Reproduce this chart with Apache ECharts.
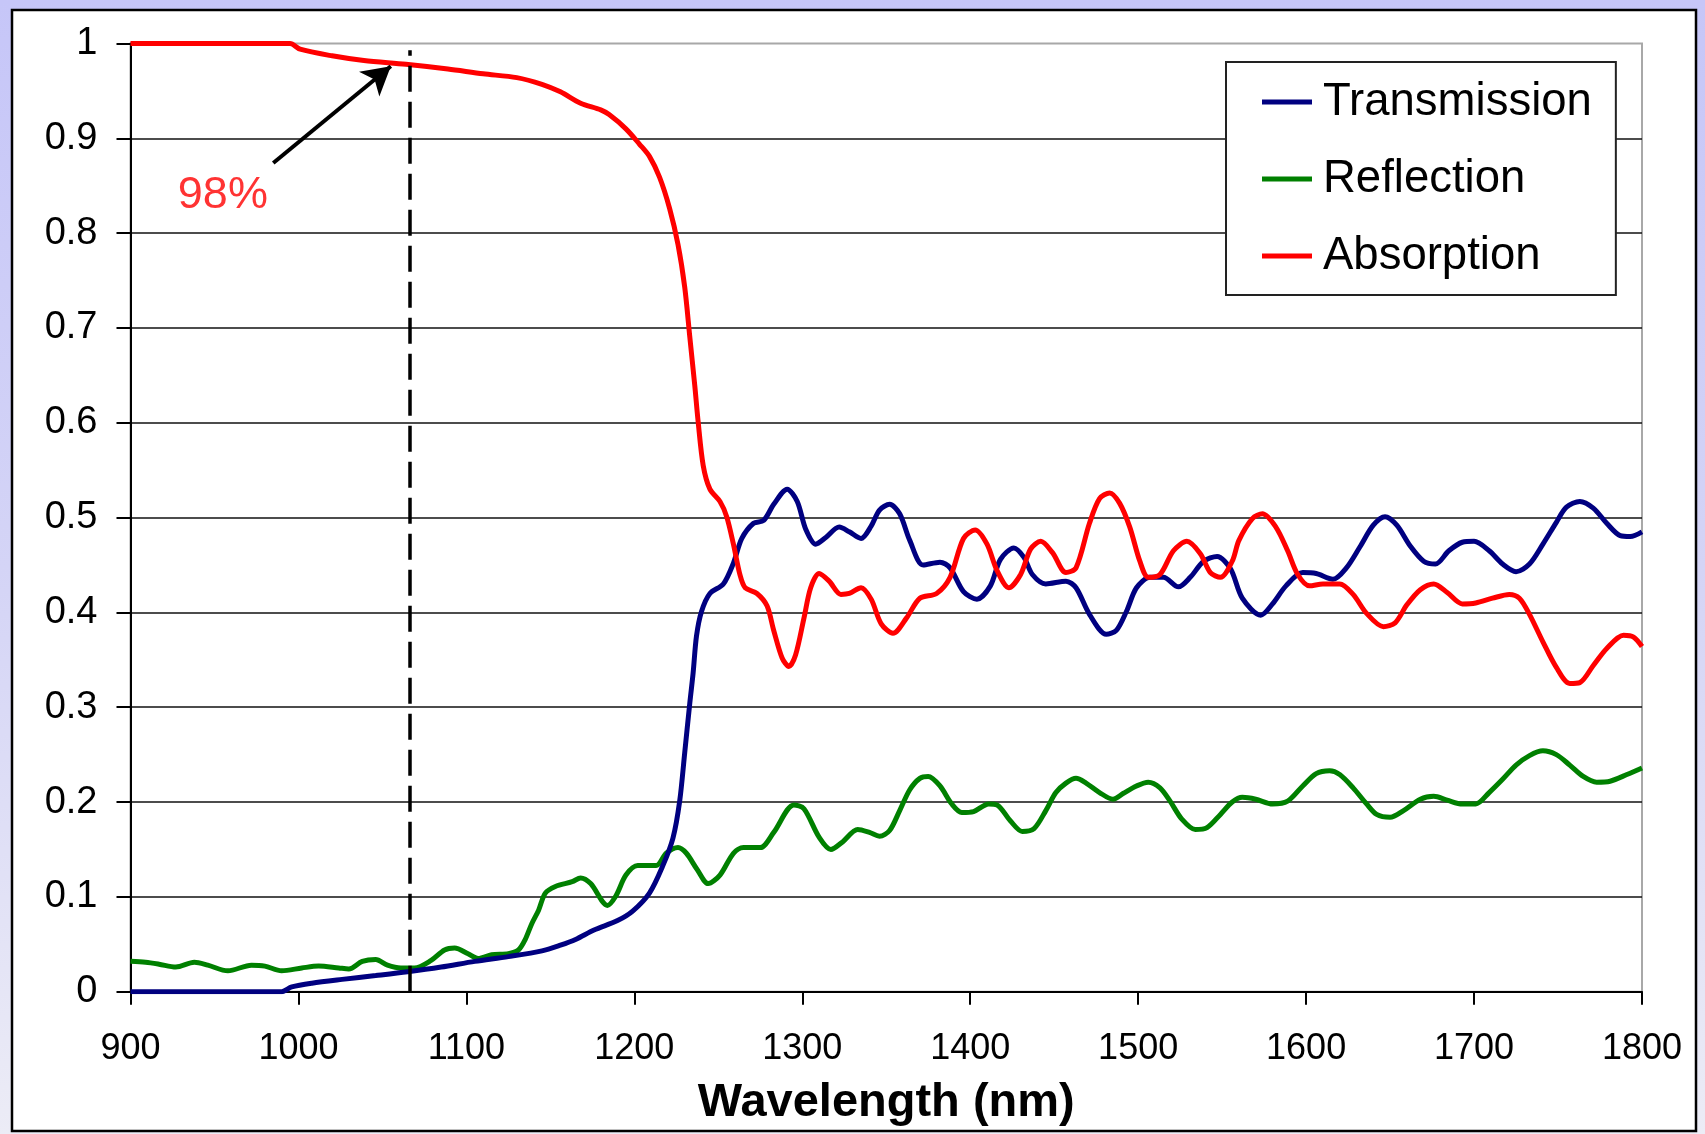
<!DOCTYPE html>
<html>
<head>
<meta charset="utf-8">
<script src="https://cdn.jsdelivr.net/npm/echarts@6/dist/echarts.min.js"></script>
<style>
  html, body { margin: 0; padding: 0; }
  body { width: 1705px; height: 1134px; background: linear-gradient(to bottom, #c6c6f8 0%, #d4d4f6 50%, #ececf6 100%); }
  #chart { width: 1705px; height: 1134px; }
</style>
</head>
<body>
<div id="chart"></div>
<script>
// ---- Data ----
var xTicks = [900, 1000, 1100, 1200, 1300, 1400, 1500, 1600, 1700, 1800];
var yTicks = [0, 0.1, 0.2, 0.3, 0.4, 0.5, 0.6, 0.7, 0.8, 0.9, 1];

var transWl = [900, 990, 996, 1008, 1026, 1046, 1065, 1085, 1105, 1125, 1145, 1156, 1165, 1176, 1190, 1199, 1209, 1217, 1223, 1227, 1230, 1233, 1235, 1237, 1240, 1245, 1253, 1259, 1264, 1271, 1277, 1283, 1291, 1297, 1302, 1308, 1314, 1322, 1328, 1335, 1341, 1346, 1352, 1358, 1364, 1372, 1382, 1388, 1396, 1404, 1412, 1418, 1426, 1432, 1437, 1445, 1457, 1463, 1471, 1481, 1487, 1493, 1499, 1507, 1515, 1524, 1531, 1539, 1547, 1555, 1562, 1573, 1580, 1588, 1598, 1606, 1616, 1624, 1632, 1640, 1647, 1654, 1662, 1670, 1677, 1685, 1693, 1700, 1709, 1717, 1725, 1733, 1741, 1749, 1755, 1763, 1771, 1779, 1787, 1793, 1800];
var transVal = [0, 0, 0.005, 0.009, 0.013, 0.017, 0.021, 0.026, 0.032, 0.037, 0.043, 0.049, 0.055, 0.065, 0.075, 0.085, 0.104, 0.133, 0.162, 0.201, 0.252, 0.304, 0.336, 0.375, 0.401, 0.420, 0.430, 0.452, 0.478, 0.494, 0.497, 0.514, 0.530, 0.517, 0.488, 0.472, 0.479, 0.490, 0.485, 0.478, 0.491, 0.508, 0.514, 0.504, 0.476, 0.450, 0.453, 0.447, 0.422, 0.414, 0.428, 0.456, 0.468, 0.458, 0.440, 0.430, 0.433, 0.426, 0.398, 0.377, 0.381, 0.401, 0.426, 0.437, 0.437, 0.427, 0.437, 0.454, 0.459, 0.446, 0.415, 0.397, 0.409, 0.428, 0.442, 0.441, 0.435, 0.447, 0.469, 0.492, 0.501, 0.492, 0.470, 0.454, 0.451, 0.465, 0.474, 0.475, 0.465, 0.451, 0.443, 0.451, 0.472, 0.495, 0.511, 0.517, 0.510, 0.494, 0.481, 0.480, 0.485];

var reflWl = [900, 909, 917, 927, 938, 946, 958, 972, 980, 990, 1002, 1012, 1024, 1030, 1038, 1046, 1053, 1061, 1069, 1079, 1087, 1093, 1101, 1107, 1115, 1125, 1131, 1135, 1139, 1143, 1147, 1153, 1163, 1168, 1174, 1184, 1189, 1195, 1202, 1213, 1219, 1226, 1231, 1237, 1244, 1251, 1259, 1265, 1275, 1283, 1295, 1301, 1310, 1317, 1324, 1333, 1340, 1346, 1352, 1358, 1364, 1370, 1375, 1382, 1389, 1395, 1402, 1411, 1416, 1424, 1431, 1438, 1445, 1451, 1457, 1463, 1469, 1477, 1485, 1491, 1499, 1506, 1513, 1519, 1526, 1534, 1541, 1549, 1556, 1562, 1570, 1580, 1589, 1598, 1606, 1614, 1620, 1628, 1636, 1642, 1650, 1658, 1668, 1676, 1684, 1693, 1701, 1709, 1717, 1725, 1733, 1741, 1749, 1757, 1765, 1773, 1781, 1791, 1800];
var reflVal = [0.032, 0.031, 0.029, 0.026, 0.031, 0.028, 0.022, 0.028, 0.027, 0.022, 0.025, 0.027, 0.025, 0.024, 0.032, 0.034, 0.028, 0.025, 0.025, 0.033, 0.044, 0.046, 0.040, 0.035, 0.039, 0.040, 0.044, 0.055, 0.072, 0.086, 0.104, 0.111, 0.116, 0.120, 0.114, 0.091, 0.101, 0.123, 0.133, 0.133, 0.146, 0.152, 0.146, 0.130, 0.114, 0.123, 0.146, 0.152, 0.152, 0.168, 0.197, 0.193, 0.163, 0.150, 0.158, 0.171, 0.168, 0.164, 0.170, 0.191, 0.213, 0.225, 0.227, 0.217, 0.198, 0.189, 0.190, 0.198, 0.197, 0.180, 0.169, 0.172, 0.191, 0.210, 0.220, 0.225, 0.220, 0.210, 0.203, 0.209, 0.217, 0.221, 0.215, 0.201, 0.182, 0.171, 0.173, 0.187, 0.200, 0.205, 0.203, 0.198, 0.201, 0.217, 0.230, 0.233, 0.229, 0.215, 0.198, 0.187, 0.184, 0.191, 0.203, 0.206, 0.202, 0.198, 0.198, 0.210, 0.224, 0.239, 0.249, 0.254, 0.250, 0.239, 0.227, 0.221, 0.222, 0.229, 0.236];

var absWl = [900, 940, 980, 995, 1001, 1020, 1039, 1064, 1089, 1110, 1130, 1145, 1156, 1168, 1180, 1185, 1195, 1203, 1209, 1215, 1221, 1226, 1230, 1233, 1236, 1238, 1241, 1245, 1251, 1255, 1259, 1263, 1266, 1273, 1279, 1283, 1288, 1292, 1296, 1301, 1305, 1310, 1316, 1323, 1328, 1335, 1341, 1347, 1354, 1362, 1370, 1380, 1388, 1396, 1403, 1410, 1416, 1423, 1430, 1436, 1442, 1449, 1457, 1463, 1471, 1477, 1483, 1489, 1495, 1501, 1506, 1513, 1521, 1529, 1537, 1543, 1549, 1556, 1560, 1568, 1574, 1582, 1589, 1595, 1602, 1610, 1620, 1628, 1636, 1646, 1653, 1660, 1668, 1676, 1684, 1693, 1701, 1711, 1721, 1727, 1733, 1741, 1749, 1757, 1763, 1771, 1779, 1789, 1795, 1800];
var absVal = [1.000, 1.000, 1.000, 1.000, 0.994, 0.987, 0.982, 0.978, 0.973, 0.968, 0.964, 0.957, 0.949, 0.937, 0.930, 0.925, 0.910, 0.894, 0.881, 0.859, 0.826, 0.788, 0.743, 0.691, 0.639, 0.601, 0.555, 0.530, 0.517, 0.501, 0.472, 0.439, 0.426, 0.420, 0.407, 0.381, 0.352, 0.343, 0.355, 0.394, 0.426, 0.441, 0.433, 0.419, 0.420, 0.426, 0.414, 0.388, 0.378, 0.394, 0.415, 0.420, 0.437, 0.478, 0.487, 0.472, 0.444, 0.426, 0.440, 0.467, 0.475, 0.463, 0.442, 0.447, 0.494, 0.520, 0.526, 0.515, 0.490, 0.454, 0.437, 0.440, 0.465, 0.475, 0.462, 0.442, 0.437, 0.454, 0.476, 0.499, 0.504, 0.490, 0.465, 0.440, 0.428, 0.430, 0.430, 0.419, 0.399, 0.385, 0.389, 0.408, 0.424, 0.430, 0.421, 0.409, 0.410, 0.415, 0.419, 0.415, 0.398, 0.369, 0.342, 0.325, 0.326, 0.344, 0.362, 0.376, 0.374, 0.364];

// annotation: laser wavelength marker and label
var markerWl = 1066.5;
var markerTop = 0.993;
var arrowFrom = [985, 0.874];
var arrowTo = [1055, 0.976];
var noteText = '98%';
var notePos = [955, 0.840];

function zip(a, b) { return a.map(function (x, i) { return [x, b[i]]; }); }

var FONT = 'Arial, "Liberation Sans", sans-serif';
var chart = echarts.init(document.getElementById('chart'), null, { renderer: 'canvas' });

var option = {
  animation: false,
  backgroundColor: 'transparent',
  textStyle: { fontFamily: FONT },
  graphic: [{
    type: 'rect', z: -100, silent: true,
    shape: { x: 12, y: 10, width: 1684, height: 1121 },
    style: { fill: '#ffffff', stroke: '#000000', lineWidth: 2.5 }
  }],
  grid: {
    left: 130.5, right: 63, top: 43.5, bottom: 142.3,
    show: true, backgroundColor: '#ffffff', borderColor: '#a8a8a8', borderWidth: 2
  },
  legend: {
    data: ['Transmission', 'Reflection', 'Absorption'],
    orient: 'vertical', left: 1226, top: 62,
    padding: [17, 24, 16, 36],
    itemGap: 31, itemWidth: 50, itemHeight: 5, icon: 'rect',
    backgroundColor: '#ffffff', borderColor: '#222', borderWidth: 2,
    textStyle: { fontSize: 45.5, lineHeight: 45, color: '#000', fontFamily: FONT, padding: [0, 0, 0, 6] },
    selectedMode: false
  },
  xAxis: {
    type: 'value', min: 900, max: 1800, interval: 100,
    name: 'Wavelength (nm)', nameLocation: 'middle', nameGap: 88,
    nameTextStyle: { fontSize: 47, fontWeight: 'bold', color: '#000', fontFamily: FONT },
    axisLine: { lineStyle: { color: '#000', width: 2 } },
    axisTick: { show: true, length: 13, lineStyle: { color: '#000', width: 2 } },
    axisLabel: { fontSize: 36, color: '#000', margin: 39, fontFamily: FONT,
      formatter: function (v) { return xTicks.indexOf(v) >= 0 ? String(v) : ''; } },
    splitLine: { show: false }
  },
  yAxis: {
    type: 'value', min: 0, max: 1, interval: 0.1,
    axisLine: { show: true, lineStyle: { color: '#000', width: 2 } },
    axisTick: { show: true, length: 14, lineStyle: { color: '#000', width: 2 } },
    axisLabel: { fontSize: 38, color: '#000', margin: 33, fontFamily: FONT,
      formatter: function (v) { var r = Math.round(v * 10) / 10; return yTicks.indexOf(r) >= 0 ? String(r) : ''; } },
    splitLine: { show: true, showMinLine: false, showMaxLine: false, lineStyle: { color: '#111', width: 1.5 } }
  },
  series: [
    {
      name: 'Transmission', type: 'line', data: zip(transWl, transVal),
      showSymbol: false, smooth: 0.3, z: 3,
      lineStyle: { color: '#000080', width: 5 }, itemStyle: { color: '#000080' }
    },
    {
      name: 'Reflection', type: 'line', data: zip(reflWl, reflVal),
      showSymbol: false, smooth: 0.3, z: 2,
      lineStyle: { color: '#008000', width: 5 }, itemStyle: { color: '#008000' }
    },
    {
      name: 'Absorption', type: 'line', data: zip(absWl, absVal),
      showSymbol: false, smooth: 0.3, z: 4,
      lineStyle: { color: '#ff0000', width: 5 }, itemStyle: { color: '#ff0000' },
      markLine: {
        silent: true, animation: false, label: { show: false },
        data: [
          [{ coord: [markerWl, 0], symbol: 'none', lineStyle: { color: '#000', width: 3.5, type: [26, 10] } },
           { coord: [markerWl, markerTop], symbol: 'none' }],
          [{ coord: arrowFrom, symbol: 'none', lineStyle: { color: '#000', width: 4, type: 'solid' } },
           { coord: arrowTo, symbol: 'arrow', symbolSize: [24, 28] }]
        ]
      }
    },
    {
      name: 'note', type: 'scatter', data: [notePos], symbolSize: 1, z: 5,
      itemStyle: { color: 'rgba(0,0,0,0)' },
      label: { show: true, position: 'inside', formatter: noteText, color: '#ff0000', fontSize: 45, fontFamily: FONT }
    }
  ]
};
chart.setOption(option);
</script>
</body>
</html>
